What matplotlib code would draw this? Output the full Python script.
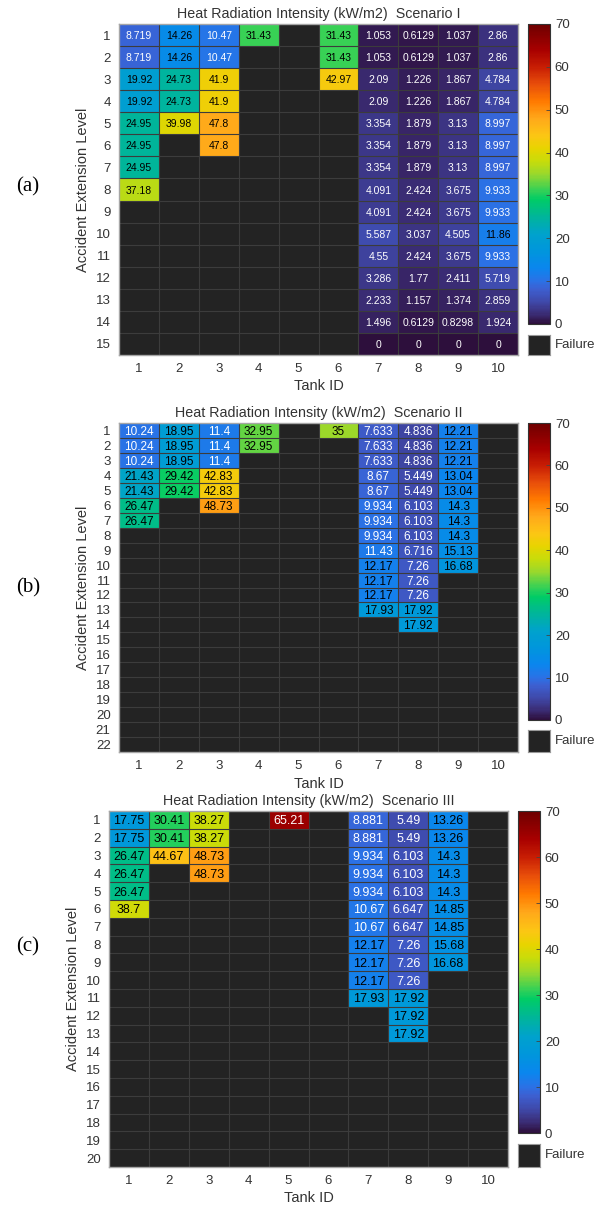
import numpy as np
import matplotlib
matplotlib.use('Agg')
import matplotlib.pyplot as plt
from matplotlib.colors import LinearSegmentedColormap, Normalize
from matplotlib.cm import ScalarMappable

plt.rcParams['font.family'] = ['Liberation Sans', 'DejaVu Sans']

nan = np.nan

# Heat radiation intensity (kW/m2), rows = accident extension level, cols = tank ID 1..10
# nan = failure
scenario1 = [
    [8.719, 14.26, 10.47, 31.43, nan, 31.43, 1.053, 0.6129, 1.037, 2.86],
    [8.719, 14.26, 10.47, nan, nan, 31.43, 1.053, 0.6129, 1.037, 2.86],
    [19.92, 24.73, 41.9, nan, nan, 42.97, 2.09, 1.226, 1.867, 4.784],
    [19.92, 24.73, 41.9, nan, nan, nan, 2.09, 1.226, 1.867, 4.784],
    [24.95, 39.98, 47.8, nan, nan, nan, 3.354, 1.879, 3.13, 8.997],
    [24.95, nan, 47.8, nan, nan, nan, 3.354, 1.879, 3.13, 8.997],
    [24.95, nan, nan, nan, nan, nan, 3.354, 1.879, 3.13, 8.997],
    [37.18, nan, nan, nan, nan, nan, 4.091, 2.424, 3.675, 9.933],
    [nan, nan, nan, nan, nan, nan, 4.091, 2.424, 3.675, 9.933],
    [nan, nan, nan, nan, nan, nan, 5.587, 3.037, 4.505, 11.86],
    [nan, nan, nan, nan, nan, nan, 4.55, 2.424, 3.675, 9.933],
    [nan, nan, nan, nan, nan, nan, 3.286, 1.77, 2.411, 5.719],
    [nan, nan, nan, nan, nan, nan, 2.233, 1.157, 1.374, 2.859],
    [nan, nan, nan, nan, nan, nan, 1.496, 0.6129, 0.8298, 1.924],
    [nan, nan, nan, nan, nan, nan, 0, 0, 0, 0],
]

scenario2 = [
    [10.24, 18.95, 11.4, 32.95, nan, 35, 7.633, 4.836, 12.21, nan],
    [10.24, 18.95, 11.4, 32.95, nan, nan, 7.633, 4.836, 12.21, nan],
    [10.24, 18.95, 11.4, nan, nan, nan, 7.633, 4.836, 12.21, nan],
    [21.43, 29.42, 42.83, nan, nan, nan, 8.67, 5.449, 13.04, nan],
    [21.43, 29.42, 42.83, nan, nan, nan, 8.67, 5.449, 13.04, nan],
    [26.47, nan, 48.73, nan, nan, nan, 9.934, 6.103, 14.3, nan],
    [26.47, nan, nan, nan, nan, nan, 9.934, 6.103, 14.3, nan],
    [nan, nan, nan, nan, nan, nan, 9.934, 6.103, 14.3, nan],
    [nan, nan, nan, nan, nan, nan, 11.43, 6.716, 15.13, nan],
    [nan, nan, nan, nan, nan, nan, 12.17, 7.26, 16.68, nan],
    [nan, nan, nan, nan, nan, nan, 12.17, 7.26, nan, nan],
    [nan, nan, nan, nan, nan, nan, 12.17, 7.26, nan, nan],
    [nan, nan, nan, nan, nan, nan, 17.93, 17.92, nan, nan],
    [nan, nan, nan, nan, nan, nan, nan, 17.92, nan, nan],
] + [[nan] * 10 for _ in range(8)]

scenario3 = [
    [17.75, 30.41, 38.27, nan, 65.21, nan, 8.881, 5.49, 13.26, nan],
    [17.75, 30.41, 38.27, nan, nan, nan, 8.881, 5.49, 13.26, nan],
    [26.47, 44.67, 48.73, nan, nan, nan, 9.934, 6.103, 14.3, nan],
    [26.47, nan, 48.73, nan, nan, nan, 9.934, 6.103, 14.3, nan],
    [26.47, nan, nan, nan, nan, nan, 9.934, 6.103, 14.3, nan],
    [38.7, nan, nan, nan, nan, nan, 10.67, 6.647, 14.85, nan],
    [nan, nan, nan, nan, nan, nan, 10.67, 6.647, 14.85, nan],
    [nan, nan, nan, nan, nan, nan, 12.17, 7.26, 15.68, nan],
    [nan, nan, nan, nan, nan, nan, 12.17, 7.26, 16.68, nan],
    [nan, nan, nan, nan, nan, nan, 12.17, 7.26, nan, nan],
    [nan, nan, nan, nan, nan, nan, 17.93, 17.92, nan, nan],
    [nan, nan, nan, nan, nan, nan, nan, 17.92, nan, nan],
    [nan, nan, nan, nan, nan, nan, nan, 17.92, nan, nan],
] + [[nan] * 10 for _ in range(7)]

titles = ['Heat Radiation Intensity (kW/m2)  Scenario I',
          'Heat Radiation Intensity (kW/m2)  Scenario II',
          'Heat Radiation Intensity (kW/m2)  Scenario III']
tank_ids = list(range(1, 11))

# colormap
anchors = [(0, '#2d0f3c'), (2, '#3a2a70'), (5, '#3f48a8'), (8, '#3d5fd0'),
           (10, '#2a72e6'), (13, '#0a86ee'), (17, '#0096dc'), (21, '#00a2cc'),
           (25, '#00b59a'), (29, '#00cc66'), (31, '#30d058'), (35, '#9ad82c'),
           (38, '#c8dc0a'), (41, '#e8d400'), (44, '#fcc614'), (48, '#ffa81a'),
           (52, '#ff7a00'), (56, '#e84e0a'), (60, '#c81e04'), (64, '#a80000'),
           (70, '#6e0000')]
cmap = LinearSegmentedColormap.from_list('heat', [(v / 70, c) for v, c in anchors])
norm = Normalize(0, 70)

BG = '#232323'
GRID = '#3c3c3c'
TXT = '#333333'

fig = plt.figure(figsize=(6, 12.09), dpi=100)
H = 1209.0

# pixel boxes: axes (x0, x1, y0, y1), colorbar (x0, x1, y0, y1), failure (y0, y1)
layout = [
    dict(ax=(119, 518, 24, 355), cb=(528, 550, 24, 324), fail=(335, 355), fs=7.5, lab='(a)', laby=187),
    dict(ax=(119, 518, 423, 752), cb=(528, 550, 423, 720), fail=(730, 752), fs=8.5, lab='(b)', laby=588),
    dict(ax=(109, 508, 811, 1167), cb=(518, 540, 811, 1133), fail=(1144, 1167), fs=9, lab='(c)', laby=947),
]


def box(x0, x1, y0, y1):
    return [x0 / 600, 1 - y1 / H, (x1 - x0) / 600, (y1 - y0) / H]


for data, title, lay in zip([scenario1, scenario2, scenario3], titles, layout):
    arr = np.array(data, dtype=float)
    nrows, ncols = arr.shape
    ax = fig.add_axes(box(*lay['ax']))
    ax.set_facecolor(BG)
    xe = np.arange(ncols + 1) + 0.5
    ye = np.arange(nrows + 1) + 0.5
    ax.pcolormesh(xe, ye, np.ma.masked_invalid(arr), cmap=cmap, norm=norm)
    for x in xe[1:-1]:
        ax.axvline(x, color=GRID, lw=0.8, zorder=2)
    for y in ye[1:-1]:
        ax.axhline(y, color=GRID, lw=0.8, zorder=2)
    for i in range(nrows):
        for j in range(ncols):
            v = arr[i, j]
            if np.isnan(v):
                continue
            col = 'white' if (v < 11.6 or v > 60) else 'black'
            ax.text(j + 1, i + 1, f'{v:.4g}', ha='center', va='center_baseline',
                    fontsize=lay['fs'], color=col, zorder=3)
    ax.set_xlim(0.5, ncols + 0.5)
    ax.set_ylim(nrows + 0.5, 0.5)
    ax.set_xticks(tank_ids)
    ax.set_yticks(range(1, nrows + 1))
    ax.tick_params(length=0, labelsize=9.5, labelcolor=TXT, pad=6)
    for s in ax.spines.values():
        s.set_color('#a6a6a6')
        s.set_linewidth(1)
    ax.set_xlabel('Tank ID', fontsize=10.5, color=TXT, labelpad=3)
    ax.set_ylabel('Accident Extension Level', fontsize=10.5, color=TXT, labelpad=4)
    ax.set_title(title, fontsize=10.3, color=TXT, pad=4)

    cax = fig.add_axes(box(*lay['cb']))
    cb = fig.colorbar(ScalarMappable(norm=norm, cmap=cmap), cax=cax)
    cb.set_ticks(range(0, 71, 10))
    cax.tick_params(labelsize=9.5, labelcolor=TXT, direction='in', length=3,
                    color='#444444', width=0.6)
    cb.outline.set_edgecolor('#333333')
    cb.outline.set_linewidth(0.8)

    cb0, cb1 = lay['cb'][0], lay['cb'][1]
    fax = fig.add_axes(box(cb0, cb1, *lay['fail']))
    fax.set_facecolor(BG)
    fax.set_xticks([])
    fax.set_yticks([])
    for s in fax.spines.values():
        s.set_color('#999999')
        s.set_linewidth(0.8)
    fig.text((cb1 + 5) / 600, 1 - (sum(lay['fail']) / 2) / H, 'Failure',
             fontsize=9.5, color=TXT, va='center', ha='left')

    fig.text(28 / 600, 1 - lay['laby'] / H, lay['lab'], fontsize=15,
             family=['Liberation Serif', 'DejaVu Serif'], ha='center', va='center')

fig.savefig('out.png', dpi=100, facecolor='white')
